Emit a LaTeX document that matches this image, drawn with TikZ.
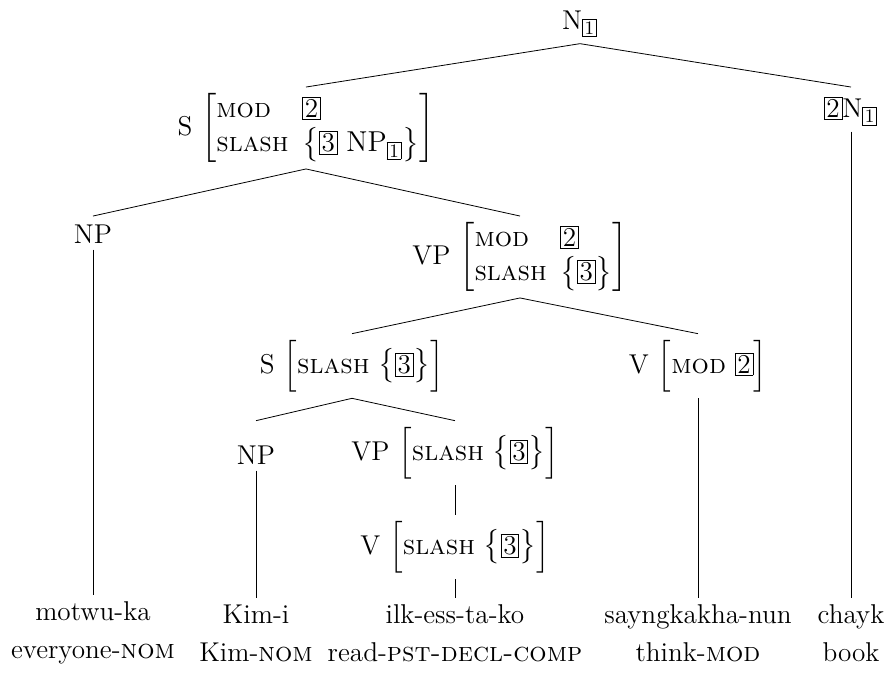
\documentclass[tikz,border=0pt]{standalone}
\usepackage{xcolor}
\usepackage{amsmath}
\usepackage{tikz}
\usetikzlibrary{positioning, calc}

\newcommand{\tg}[1]{{\setlength{\fboxsep}{0.9pt}\fbox{#1}}}
\newcommand{\ft}[1]{\textsc{#1}}

\begin{document}
\begin{tikzpicture}[x=0.5pt, y=-0.5pt, every node/.style={font=\fontsize{13.6}{16.5}\selectfont, inner sep=3pt}, leaf/.style={align=center, font=\fontsize{13.6}{19}\selectfont}]
				%% frame of the picture, in pixels
				\useasboundingbox (0,0) rectangle (890,694);
				\node (n0) at (580,24) {N$_{\text{\tg{1}}}$};
				\node (s1) at (306,128) {S $\left[\begin{array}{@{}l@{\hspace{0.5em}}l@{}}\ft{mod} & \tg{2}\\ \ft{slash} & \bigl\{\tg{3}\ \mathrm{NP}_{\text{\tg{1}}}\bigr\}\end{array}\right]$};
				\node (n1) at (851,111) {\tg{2}N$_{\text{\tg{1}}}$};
				\node (np1) at (93,234) {NP};
				\node (vp1) at (520,257) {VP $\left[\begin{array}{@{}l@{\hspace{0.5em}}l@{}}\ft{mod} & \tg{2}\\ \ft{slash} & \bigl\{\tg{3}\bigr\}\end{array}\right]$};
				\node (s2) at (352,366) {S $\Bigl[\ft{slash}\ \bigl\{\tg{3}\bigr\}\Bigr]$};
				\node (v2) at (698,366) {V $\Bigl[\ft{mod}\ \tg{2}\Bigr]$};
				\node (np2) at (256,455) {NP};
				\node (vp2) at (455,453) {VP $\Bigl[\ft{slash}\ \bigl\{\tg{3}\bigr\}\Bigr]$};
				\node (v3) at (455,547) {V $\Bigl[\ft{slash}\ \bigl\{\tg{3}\bigr\}\Bigr]$};
				
				%% words and glosses
				\node[leaf] (w1) at (93,633) {motwu-ka\\everyone-\ft{nom}};
				\node[leaf] (w2) at (256,633) {Kim-i\\Kim-\ft{nom}};
				\node[leaf] (w3) at (455,633) {ilk-ess-ta-ko\\read-\ft{pst-decl-comp}};
				\node[leaf] (w4) at (698,633) {sayngkakha-nun\\think-\ft{mod}};
				\node[leaf] (w5) at (851,633) {chayk\\book};
				
				\draw (n0.south) -- (s1.north);
				\draw (n0.south) -- (n1.north |- s1.north);
				\draw (s1.south) -- (np1.north |- vp1.north);
				\draw (s1.south) -- (vp1.north);
				\draw (vp1.south) -- (s2.north);
				\draw (vp1.south) -- (v2.north);
				\draw (s2.south) -- (np2.north |- vp2.north);
				\draw (s2.south) -- (vp2.north);
				\draw (vp2.south) -- (vp2.south |- v3.north);
				\draw (np1.south) -- (np1.south |- w1.north);
				\draw (np2.south) -- (np2.south |- w2.north);
				\draw (v3.south) -- (v3.south |- w3.north);
				\draw (v2.south) -- (v2.south |- w4.north);
				\draw (n1.south) -- (n1.south |- w5.north);
\end{tikzpicture}
\end{document}
